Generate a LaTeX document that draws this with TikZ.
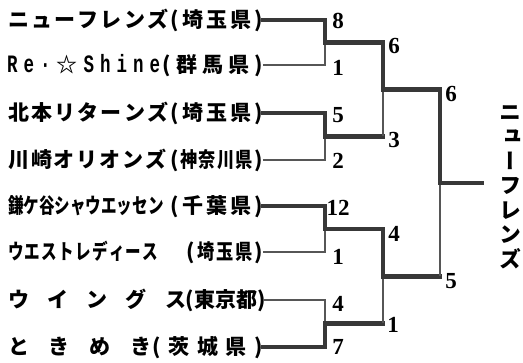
\documentclass[tikz,border=0pt]{standalone}
\usepackage{fontspec}
\newfontfamily\jp{Noto Sans CJK JP}
\newfontfamily\jpc{Noto Sans CJK JP}[FakeStretch=0.74]
\newfontfamily\jpd{Noto Sans CJK JP}[FakeStretch=0.82]
\newfontfamily\jpv{Noto Sans CJK JP}[RawFeature={+vert}]
\newfontfamily\numf{Liberation Serif}
\newfontfamily\monof{Liberation Mono}[FakeStretch=0.7]
\newcommand\spread[2]{\hbox to #1{\spaceskip=0pt plus 1fil\xspaceskip=0pt plus 1fil\relax #2}}
\newcommand\mo[1]{{\monof\fontsize{25}{26}\selectfont #1}}
\definecolor{linec}{HTML}{383838}
\tikzset{
  nm/.style={anchor=west, inner sep=0pt, text height=17pt, text depth=1pt, font=\jp\bfseries\fontsize{21}{24}\selectfont},
  pr/.style={anchor=east, inner sep=0pt, text height=17pt, text depth=1pt, font=\jp\bfseries\fontsize{21}{24}\selectfont},
  sc/.style={font=\numf\bfseries\fontsize{23}{26}\selectfont, inner sep=0pt},
  thk/.style={line width=4.8pt, draw=linec, line cap=rect},
  thn/.style={line width=1.5pt, draw=linec!85},
}
\begin{document}
\begin{tikzpicture}[x=1pt,y=-1pt]
\fill[white] (0,0) rectangle (523,363);
\useasboundingbox (0,0) rectangle (523,363);
% team names
\node[nm] (n1) at (8,20) {\spread{160pt}{ニ ュ ー フ レ ン ズ}};
\node[pr] (p1) at (263,20) {\spread{92pt}{( 埼 玉 県 )}};
\node[nm] (n2) at (7,65) {\spread{153pt}{\mo{R} \mo{e} \mo{·} ☆ \mo{S} \mo{h} \mo{i} \mo{n} \mo{e}}};
\node[pr] (p2) at (263,65) {\spread{100pt}{( 群 馬 県 )}};
\node[nm] (n3) at (8,113) {\spread{160pt}{北 本 リ タ ー ン ズ}};
\node[pr] (p3) at (263,113) {\spread{92pt}{( 埼 玉 県 )}};
\node[nm] (n4) at (8,160) {\spread{158pt}{川 崎 オ リ オ ン ズ}};
\node[pr] (p4) at (263,160) {\spread{92pt}{( \jpd 神 奈 川 県 \jp )}};
\node[nm] (n5) at (8,206) {\spread{152pt}{\jpc 鎌 ケ 谷 シ ャ ウ エ ッ セ ン}};
\node[pr] (p5) at (263,206) {\spread{92pt}{( 千 葉 県 )}};
\node[nm] (n6) at (8,252) {\spread{150pt}{\jpc ウ エ ス ト レ デ ィ ー ス}};
\node[pr] (p6) at (263,252) {\spread{76pt}{( \jpd 埼 玉 県 \jp )}};
\node[nm] (n7) at (8,300) {\spread{178pt}{ウ イ ン グ ス}};
\node[pr] (p7) at (263,300) {\spread{77pt}{( 東 京 都 )}};
\node[nm] (n8) at (8,347) {\spread{143pt}{と き め き}};
\node[pr] (p8) at (263,347) {\spread{110pt}{( 茨 城 県 )}};
% bracket points
\coordinate (j1) at (325,42.5);
\coordinate (j2) at (325,136.5);
\coordinate (j3) at (325,229);
\coordinate (j4) at (325,323.5);
\coordinate (s1) at (383,89.5);
\coordinate (s2) at (383,276.5);
\coordinate (f) at (440,183);
\coordinate (wl) at (482,183);
% first round
\draw[thk] (p1.east) -| (j1);
\draw[thn] (p2.east) -| (j1);
\draw[thk] (p3.east) -| (j2);
\draw[thn] (p4.east) -| (j2);
\draw[thk] (p5.east) -| (j3);
\draw[thn] (p6.east) -| (j3);
\draw[thn] (p7.east) -| (j4);
\draw[thk] (p8.east) -| (j4);
% semifinals
\draw[thk] (j1) -| (s1);
\draw[thk] (j2) -- (j2 -| s1);
\draw[thn] (j2 -| s1) -- (s1);
\draw[thk] (j3) -| (s2);
\draw[thk] (j4) -- (j4 -| s2);
\draw[thn] (j4 -| s2) -- (s2);
% final
\draw[thk] (s1) -| (f);
\draw[thk] (s2) -- (s2 -| f);
\draw[thn] (s2 -| f) -- (f);
\draw[thk] (f) -- (wl);
% scores
\node[sc] (r1) at (338,21) {8};
\node[sc] (r2) at (338,68) {1};
\node[sc] (r3) at (338,115) {5};
\node[sc] (r4) at (338,161) {2};
\node[sc] (r5) at (338,208) {12};
\node[sc] (r6) at (338,257) {1};
\node[sc] (r7) at (338,304) {4};
\node[sc] (r8) at (338,347) {7};
\node[sc] (q1) at (394,46) {6};
\node[sc] (q2) at (394,140) {3};
\node[sc] (q3) at (394,234) {4};
\node[sc] (q4) at (393,325) {1};
\node[sc] (g1) at (451,94) {6};
\node[sc] (g2) at (451,281) {5};
% winner
\node[font=\jpv\bfseries\fontsize{22}{24.5}\selectfont, align=center, inner sep=0pt] (win) at (510,187) {ニ\\ュ\\ー\\フ\\レ\\ン\\ズ};
\end{tikzpicture}
\end{document}
